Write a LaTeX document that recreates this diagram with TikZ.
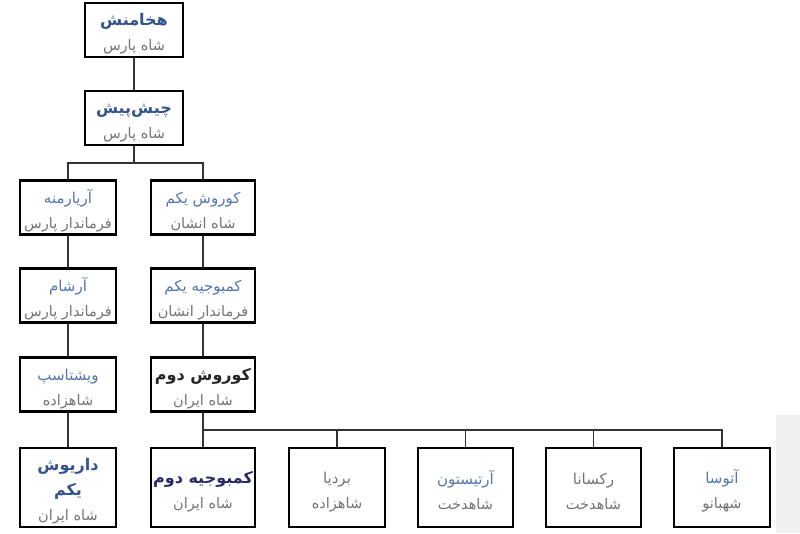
\documentclass[tikz,border=0pt]{standalone}
\usepackage{fontspec}
\newfontfamily\fa[Script=Arabic]{DejaVu Sans}
\TeXXeTstate=1
\definecolor{nameblue}{HTML}{5575AE}
\definecolor{boldblue}{HTML}{34538F}
\definecolor{darknavy}{HTML}{2A2A66}
\definecolor{subgray}{HTML}{747474}
\newcommand{\nm}{\fontsize{15}{25}\selectfont\rule{0pt}{20pt}}
\newcommand{\bnm}{\fontsize{16}{25}\selectfont\bfseries\rule{0pt}{20pt}}
\newcommand{\sub}{\fontsize{14.5}{25}\selectfont\color{subgray}}
\tikzset{
  person/.style={draw=black, line width=2.2pt, minimum height=54pt, inner sep=2pt, align=center, fill=white,
    font=\fa\fontsize{14.5}{25}\selectfont},
  tall/.style={person, minimum height=79pt},
  link/.style={draw=black!80, line width=1.1pt},
}
\begin{document}
\begin{tikzpicture}[x=1pt, y=-1pt]
    \useasboundingbox (0,0) rectangle (800,533);
    \fill[black!6] (776,415) rectangle (800,533);
    % top of the line
    \node[person, minimum width=98pt] (hax) at (134,30) {{\bnm\color{boldblue}\beginR هخامنش\endR}\\{\sub\beginR شاه پارس\endR}};
    \node[person, minimum width=98pt] (chi) at (134,118) {{\bnm\color{boldblue}\beginR چیش‌پیش\endR}\\{\sub\beginR شاه پارس\endR}};
    % left branch
    \node[person, minimum width=96pt] (ari) at (68,207.5) {{\nm\color{nameblue}\beginR آریارمنه\endR}\\{\sub\beginR فرماندار پارس\endR}};
    \node[person, minimum width=96pt] (ars) at (68,295.5) {{\nm\color{nameblue}\beginR آرشام\endR}\\{\sub\beginR فرماندار پارس\endR}};
    \node[person, minimum width=96pt] (vis) at (68,384.5) {{\nm\color{nameblue}\beginR ویشتاسپ\endR}\\{\sub\beginR شاهزاده\endR}};
    \node[tall, minimum width=96pt] (dar) at (68,487.5) {{\bnm\color{boldblue}\beginR داریوش\endR}\\{\bnm\color{boldblue}\beginR یکم\endR}\\{\sub\beginR شاه ایران\endR}};
    % right branch
    \node[person, minimum width=104pt] (kur) at (203,207.5) {{\nm\color{nameblue}\beginR کوروش یکم\endR}\\{\sub\beginR شاه انشان\endR}};
    \node[person, minimum width=104pt] (kam) at (203,295.5) {{\nm\color{nameblue}\beginR کمبوجیه یکم\endR}\\{\sub\beginR فرماندار انشان\endR}};
    \node[person, minimum width=104pt] (kdo) at (203,384.5) {{\bnm\color{black!85}\beginR کوروش دوم\endR}\\{\sub\beginR شاه ایران\endR}};
    % children
    \node[tall, minimum width=104pt] (kmd) at (203,487.5) {{\bnm\color{darknavy}\beginR کمبوجیه دوم\endR}\\{\sub\beginR شاه ایران\endR}};
    \node[tall, minimum width=96pt] (bar) at (337,487.5) {{\nm\color{black!55}\beginR بردیا\endR}\\{\sub\beginR شاهزاده\endR}};
    \node[tall, minimum width=95pt] (art) at (465.5,487.5) {{\nm\color{nameblue}\beginR آرتیستون\endR}\\{\sub\beginR شاهدخت\endR}};
    \node[tall, minimum width=95pt] (rok) at (593.5,487.5) {{\nm\color{black!55}\beginR رکسانا\endR}\\{\sub\beginR شاهدخت\endR}};
    \node[tall, minimum width=96pt] (ato) at (722,487.5) {{\nm\color{nameblue}\beginR آتوسا\endR}\\{\sub\beginR شهبانو\endR}};
    % connectors
    \coordinate (fork) at (134,163);
    \coordinate (kids) at (203,430);
    \draw[link] (hax) -- (chi);
    \draw[link] (chi) -- (fork);
    \draw[link] (ari.north) |- (fork) -| (kur.north);
    \draw[link] (ari) -- (ars);
    \draw[link] (ars) -- (vis);
    \draw[link] (vis) -- (dar);
    \draw[link] (kur) -- (kam);
    \draw[link] (kam) -- (kdo);
    \draw[link] (kdo) -- (kmd);
    \draw[link] (kids) -| (ato.north);
    \foreach \c in {bar,art,rok}
        \draw[link] (\c.north) -- (\c.north |- kids);
\end{tikzpicture}
\end{document}
